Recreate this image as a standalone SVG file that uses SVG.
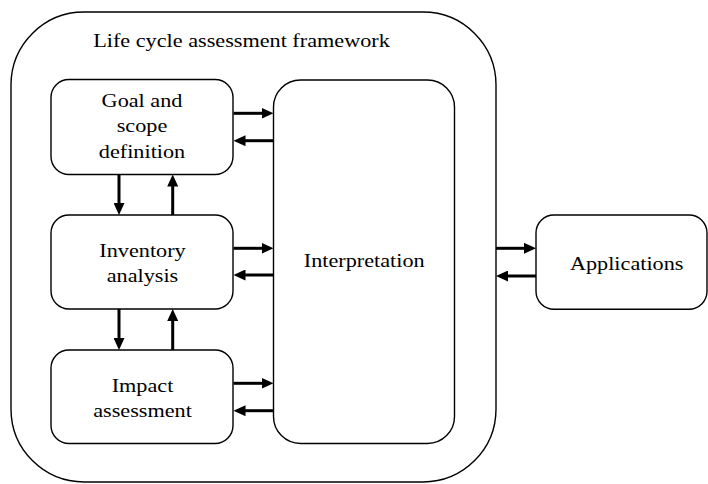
<svg xmlns="http://www.w3.org/2000/svg" width="708" height="484" viewBox="0 0 708 484">
<style>
.box{fill:#fff;stroke:#000;stroke-width:1.4}
.outer{fill:none;stroke:#000;stroke-width:1.4}
.lbl{font-family:"Liberation Serif","Times New Roman",serif;font-size:19px;fill:#000;text-anchor:middle}
.conn line{stroke:#000;stroke-width:3;marker-end:url(#ah)}
</style>
<defs>
<marker id="ah" viewBox="0 0 12 11" markerWidth="12" markerHeight="11" refX="1" refY="5.5" orient="auto" markerUnits="userSpaceOnUse">
<path d="M0,0 L12,5.5 L0,11 Z" fill="#000"/>
</marker>
</defs>
<rect width="708" height="484" fill="#fff"/>
<g id="framework">
<rect class="outer" x="11" y="12" width="485" height="470" rx="73" ry="73"/>
<text class="lbl" transform="translate(241.5,46.7) scale(1.17,1)">Life cycle assessment framework</text>
</g>
<g id="goal">
<rect class="box" x="51" y="79.5" width="182" height="95" rx="18" ry="18"/>
<text class="lbl" transform="translate(142,106.5) scale(1.17,1)">Goal and</text>
<text class="lbl" transform="translate(142,132) scale(1.17,1)">scope</text>
<text class="lbl" transform="translate(142,158) scale(1.17,1)">definition</text>
</g>
<g id="inventory">
<rect class="box" x="51" y="215" width="182" height="94" rx="18" ry="18"/>
<text class="lbl" transform="translate(142.5,256.7) scale(1.17,1)">Inventory</text>
<text class="lbl" transform="translate(142.5,282.3) scale(1.17,1)">analysis</text>
</g>
<g id="impact">
<rect class="box" x="51" y="350" width="182" height="93.5" rx="18" ry="18"/>
<text class="lbl" transform="translate(142.5,391.7) scale(1.17,1)">Impact</text>
<text class="lbl" transform="translate(142.5,416.7) scale(1.17,1)">assessment</text>
</g>
<g id="interpretation">
<rect class="box" x="273.5" y="80" width="181" height="363.5" rx="27" ry="27"/>
<text class="lbl" transform="translate(364.2,266.7) scale(1.17,1)">Interpretation</text>
</g>
<g id="applications">
<rect class="box" x="536" y="215" width="171" height="94.3" rx="18" ry="18"/>
<text class="lbl" transform="translate(626.7,270) scale(1.17,1)">Applications</text>
</g>
<g id="connectors" class="conn">
<line x1="233.5" y1="113.3" x2="262.5" y2="113.3"/>
<line x1="273.5" y1="140.7" x2="244.5" y2="140.7"/>
<line x1="233.5" y1="248.3" x2="262.5" y2="248.3"/>
<line x1="273.5" y1="275" x2="244.5" y2="275"/>
<line x1="233.5" y1="383.3" x2="262.5" y2="383.3"/>
<line x1="273.5" y1="410.7" x2="244.5" y2="410.7"/>
<line x1="119" y1="174.5" x2="119" y2="204"/>
<line x1="172.7" y1="215" x2="172.7" y2="185.5"/>
<line x1="119" y1="309" x2="119" y2="339"/>
<line x1="172.7" y1="350" x2="172.7" y2="320"/>
<line x1="496" y1="248.3" x2="525" y2="248.3"/>
<line x1="536" y1="276" x2="507" y2="276"/>
</g>
</svg>
